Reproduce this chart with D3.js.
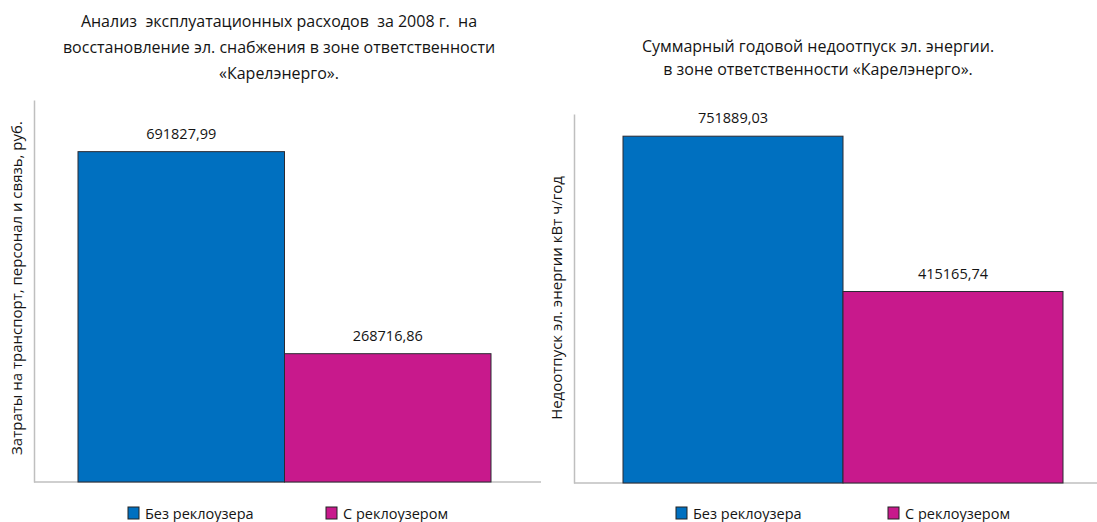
<!DOCTYPE html>
<html>
<head>
<meta charset="utf-8">
<script src="https://cdn.jsdelivr.net/npm/d3@7"></script>
<style>
  body { margin: 0; background: #fff; }
  svg { display: block; }
  text { font-family: "Open Sans", "Noto Sans", sans-serif; fill: #141414; white-space: pre; }
</style>
</head>
<body>
<svg id="chart" width="1097" height="522"></svg>
<script>
// series shared by both charts
const series = ["Без реклоузера", "С реклоузером"];
const seriesColors = ["#0070c0", "#c8198c"];

// left chart: operating costs
const costTitle = ["Анализ  эксплуатационных расходов  за 2008 г.  на",
                   "восстановление эл. снабжения в зоне ответственности",
                   "«Карелэнерго»."];
const costAxisLabel = "Затраты на транспорт, персонал и связь, руб.";
const costValues = [691827.99, 268716.86];

// right chart: undelivered energy
const lossTitle = ["Суммарный годовой недоотпуск эл. энергии.",
                   "в зоне ответственности «Карелэнерго»."];
const lossAxisLabel = "Недоотпуск эл. энергии кВт ч/год";
const lossValues = [751889.03, 415165.74];

const yMax = 800000;

const ru = d3.formatLocale({decimal: ",", thousands: "", grouping: [3], currency: ["", ""]});
const fmt = ru.format(".2f");

const svg = d3.select("#chart");

function draw_bars(cfg) {
  const g = svg.append("g");

  const x = d3.scaleBand().domain(series).range([cfg.barLeft, cfg.barRight]).padding(0);
  const y = d3.scaleLinear().domain([0, yMax]).range([cfg.base, cfg.top]);

  // title
  g.append("text")
      .attr("text-anchor", "middle")
      .attr("xml:space", "preserve")
      .style("font-size", "16px")
      .selectAll("tspan")
      .data(cfg.title)
      .enter()
      .append("tspan")
      .attr("x", cfg.titleX)
      .attr("y", (d, i) => cfg.titleY + i * cfg.titleStep)
      .text(d => d);

  // axes: only the lines are visible
  const yAxis = g.append("g")
      .attr("transform", "translate(" + cfg.axisX + ",0)")
      .call(d3.axisLeft(y).tickValues([]).tickSizeOuter(0));
  yAxis.select(".domain").attr("stroke", "#bfbfbf").attr("stroke-width", 1.5);

  g.append("line")
      .attr("x1", cfg.axisX).attr("x2", cfg.axisRight)
      .attr("y1", y(0)).attr("y2", y(0))
      .attr("stroke", "#bfbfbf")
      .attr("stroke-width", 1.5);

  // bars
  g.selectAll(".bar")
      .data(cfg.values)
      .enter()
      .append("rect")
      .attr("class", "bar")
      .attr("x", (d, i) => x(series[i]))
      .attr("y", d => y(d))
      .attr("width", x.bandwidth())
      .attr("height", d => y(0) - y(d))
      .attr("fill", (d, i) => seriesColors[i])
      .attr("stroke", "#2b2b33")
      .attr("stroke-width", 1);

  // value labels
  g.selectAll(".val")
      .data(cfg.values)
      .enter()
      .append("text")
      .attr("class", "val")
      .attr("x", (d, i) => x(series[i]) + x.bandwidth() / 2)
      .attr("y", d => y(d) - 13)
      .attr("text-anchor", "middle")
      .style("font-size", "14.5px")
      .text(d => fmt(d));

  // y axis title
  g.append("text")
      .attr("transform", "translate(" + cfg.labelX + "," + cfg.labelY + ") rotate(-90)")
      .attr("text-anchor", "middle")
      .style("font-size", "15px")
      .text(cfg.axisLabel);

  // legend
  const leg = g.selectAll(".leg")
      .data(series)
      .enter()
      .append("g")
      .attr("class", "leg")
      .attr("transform", (d, i) => "translate(" + cfg.legendX[i] + "," + cfg.legendY + ")");
  leg.append("rect")
      .attr("width", 11).attr("height", 12)
      .attr("fill", (d, i) => seriesColors[i])
      .attr("stroke", "#222")
      .attr("stroke-width", 1);
  leg.append("text")
      .attr("x", 17).attr("y", 11.5)
      .style("font-size", "14.5px")
      .text(d => d);
}

draw_bars({
  title: costTitle, titleX: 279, titleY: 27, titleStep: 26,
  values: costValues, axisLabel: costAxisLabel,
  barLeft: 78, barRight: 491, base: 482, top: 100,
  axisX: 34, axisRight: 541,
  labelX: 22, labelY: 288,
  legendX: [128, 326], legendY: 507
});

draw_bars({
  title: lossTitle, titleX: 818, titleY: 52, titleStep: 23,
  values: lossValues, axisLabel: lossAxisLabel,
  barLeft: 623, barRight: 1063, base: 483, top: 114,
  axisX: 574, axisRight: 1097,
  labelX: 562, labelY: 298,
  legendX: [676, 888], legendY: 507
});
</script>
</body>
</html>
